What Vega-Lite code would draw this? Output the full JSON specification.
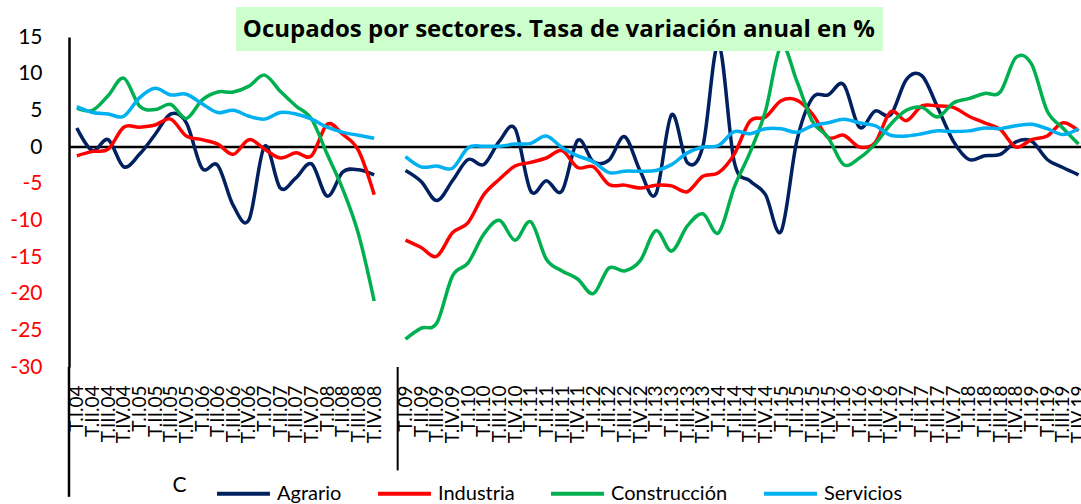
{
 "$schema": "https://vega.github.io/schema/vega-lite/v6.json",
 "width": 1012,
 "height": 330,
 "autosize": {"type": "none"},
 "padding": {"left": 69, "top": 37, "right": 0, "bottom": 137},
 "background": "white",
 "config": {"view": {"stroke": null}, "font": "Lato"},
 "resolve": {"axis": {"x": "independent", "y": "independent"}},
 "data": {"values": [{}]},
 "datasets": {
  "t": [
   {"i":0,"q":"T.I.04","g":1,"Agrario":2.6,"Industria":-1.2,"Construcción":5.3,"Servicios":5.5},
   {"i":1,"q":"T.II.04","g":1,"Agrario":-0.5,"Industria":-0.6,"Construcción":5.0,"Servicios":4.7},
   {"i":2,"q":"T.III.04","g":1,"Agrario":1.0,"Industria":-0.3,"Construcción":7.0,"Servicios":4.5},
   {"i":3,"q":"T.IV.04","g":1,"Agrario":-2.7,"Industria":2.7,"Construcción":9.4,"Servicios":4.2},
   {"i":4,"q":"T.I.05","g":1,"Agrario":-1.0,"Industria":2.7,"Construcción":5.6,"Servicios":6.7},
   {"i":5,"q":"T.II.05","g":1,"Agrario":1.7,"Industria":3.0,"Construcción":5.1,"Servicios":8.0},
   {"i":6,"q":"T.III.05","g":1,"Agrario":4.5,"Industria":3.8,"Construcción":5.8,"Servicios":7.1},
   {"i":7,"q":"T.IV.05","g":1,"Agrario":3.3,"Industria":1.5,"Construcción":3.9,"Servicios":7.2},
   {"i":8,"q":"T.I.06","g":1,"Agrario":-2.9,"Industria":1.0,"Construcción":6.4,"Servicios":5.9},
   {"i":9,"q":"T.II.06","g":1,"Agrario":-2.5,"Industria":0.4,"Construcción":7.5,"Servicios":4.7},
   {"i":10,"q":"T.III.06","g":1,"Agrario":-8.0,"Industria":-1.0,"Construcción":7.5,"Servicios":5.0},
   {"i":11,"q":"T.IV.06","g":1,"Agrario":-9.9,"Industria":1.0,"Construcción":8.3,"Servicios":4.2},
   {"i":12,"q":"T.I.07","g":1,"Agrario":0.1,"Industria":-0.3,"Construcción":9.8,"Servicios":3.8},
   {"i":13,"q":"T.II.07","g":1,"Agrario":-5.6,"Industria":-1.5,"Construcción":7.6,"Servicios":4.7},
   {"i":14,"q":"T.III.07","g":1,"Agrario":-4.2,"Industria":-0.8,"Construcción":5.6,"Servicios":4.5},
   {"i":15,"q":"T.IV.07","g":1,"Agrario":-2.3,"Industria":-1.2,"Construcción":3.8,"Servicios":3.8},
   {"i":16,"q":"T.I.08","g":1,"Agrario":-6.7,"Industria":3.1,"Construcción":-1.0,"Servicios":2.7},
   {"i":17,"q":"T.II.08","g":1,"Agrario":-3.4,"Industria":1.7,"Construcción":-5.8,"Servicios":2.0},
   {"i":18,"q":"T.III.08","g":1,"Agrario":-3.1,"Industria":-0.5,"Construcción":-11.9,"Servicios":1.6},
   {"i":19,"q":"T.IV.08","g":1,"Agrario":-3.8,"Industria":-6.5,"Construcción":-21.0,"Servicios":1.2},
   {"i":21,"q":"T.I.09","g":2,"Agrario":-3.2,"Industria":-12.7,"Construcción":-26.2,"Servicios":-1.3},
   {"i":22,"q":"T.II.09","g":2,"Agrario":-4.7,"Industria":-13.7,"Construcción":-24.7,"Servicios":-2.7},
   {"i":23,"q":"T.III.09","g":2,"Agrario":-7.3,"Industria":-14.9,"Construcción":-24.0,"Servicios":-2.6},
   {"i":24,"q":"T.IV.09","g":2,"Agrario":-4.6,"Industria":-11.7,"Construcción":-17.6,"Servicios":-2.9},
   {"i":25,"q":"T.I.10","g":2,"Agrario":-1.7,"Industria":-10.3,"Construcción":-15.8,"Servicios":-0.1},
   {"i":26,"q":"T.II.10","g":2,"Agrario":-2.4,"Industria":-6.5,"Construcción":-11.9,"Servicios":0.1},
   {"i":27,"q":"T.III.10","g":2,"Agrario":0.8,"Industria":-4.4,"Construcción":-10.0,"Servicios":0.1},
   {"i":28,"q":"T.IV.10","g":2,"Agrario":2.5,"Industria":-2.6,"Construcción":-12.7,"Servicios":0.4},
   {"i":29,"q":"T.I.11","g":2,"Agrario":-6.0,"Industria":-2.1,"Construcción":-10.2,"Servicios":0.5},
   {"i":30,"q":"T.II.11","g":2,"Agrario":-4.6,"Industria":-1.5,"Construcción":-15.3,"Servicios":1.5},
   {"i":31,"q":"T.III.11","g":2,"Agrario":-6.0,"Industria":-0.5,"Construcción":-16.9,"Servicios":-0.1},
   {"i":32,"q":"T.IV.11","g":2,"Agrario":0.9,"Industria":-2.8,"Construcción":-18.0,"Servicios":-1.2},
   {"i":33,"q":"T.I.12","g":2,"Agrario":-2.0,"Industria":-2.7,"Construcción":-20.0,"Servicios":-2.0},
   {"i":34,"q":"T.II.12","g":2,"Agrario":-1.8,"Industria":-5.1,"Construcción":-16.5,"Servicios":-3.5},
   {"i":35,"q":"T.III.12","g":2,"Agrario":1.4,"Industria":-5.2,"Construcción":-16.9,"Servicios":-3.3},
   {"i":36,"q":"T.IV.12","g":2,"Agrario":-3.3,"Industria":-5.6,"Construcción":-15.5,"Servicios":-3.3},
   {"i":37,"q":"T.I.13","g":2,"Agrario":-6.4,"Industria":-5.2,"Construcción":-11.4,"Servicios":-3.2},
   {"i":38,"q":"T.II.13","g":2,"Agrario":4.4,"Industria":-5.3,"Construcción":-14.2,"Servicios":-2.4},
   {"i":39,"q":"T.III.13","g":2,"Agrario":-2.1,"Industria":-6.1,"Construcción":-10.8,"Servicios":-0.8},
   {"i":40,"q":"T.IV.13","g":2,"Agrario":0.1,"Industria":-4.0,"Construcción":-9.1,"Servicios":0.0},
   {"i":41,"q":"T.I.14","g":2,"Agrario":14.0,"Industria":-3.5,"Construcción":-11.7,"Servicios":0.2},
   {"i":42,"q":"T.II.14","g":2,"Agrario":-2.0,"Industria":-1.0,"Construcción":-5.5,"Servicios":2.1},
   {"i":43,"q":"T.III.14","g":2,"Agrario":-4.6,"Industria":3.5,"Construcción":-0.8,"Servicios":1.8},
   {"i":44,"q":"T.IV.14","g":2,"Agrario":-6.5,"Industria":4.1,"Construcción":4.9,"Servicios":2.5},
   {"i":45,"q":"T.I.15","g":2,"Agrario":-11.5,"Industria":6.3,"Construcción":13.8,"Servicios":2.5},
   {"i":46,"q":"T.II.15","g":2,"Agrario":0.8,"Industria":6.4,"Construcción":9.0,"Servicios":2.0},
   {"i":47,"q":"T.III.15","g":2,"Agrario":6.7,"Industria":4.5,"Construcción":3.5,"Servicios":2.9},
   {"i":48,"q":"T.IV.15","g":2,"Agrario":7.1,"Industria":1.3,"Construcción":1.3,"Servicios":3.3},
   {"i":49,"q":"T.I.16","g":2,"Agrario":8.5,"Industria":1.6,"Construcción":-2.4,"Servicios":3.8},
   {"i":50,"q":"T.II.16","g":2,"Agrario":2.7,"Industria":0.0,"Construcción":-1.5,"Servicios":3.3},
   {"i":51,"q":"T.III.16","g":2,"Agrario":4.9,"Industria":0.6,"Construcción":0.4,"Servicios":2.9},
   {"i":52,"q":"T.IV.16","g":2,"Agrario":4.4,"Industria":4.8,"Construcción":3.1,"Servicios":1.6},
   {"i":53,"q":"T.I.17","g":2,"Agrario":9.2,"Industria":3.6,"Construcción":5.0,"Servicios":1.5},
   {"i":54,"q":"T.II.17","g":2,"Agrario":9.7,"Industria":5.6,"Construcción":5.4,"Servicios":1.8},
   {"i":55,"q":"T.III.17","g":2,"Agrario":5.4,"Industria":5.6,"Construcción":4.1,"Servicios":2.2},
   {"i":56,"q":"T.IV.17","g":2,"Agrario":0.8,"Industria":5.4,"Construcción":6.0,"Servicios":2.1},
   {"i":57,"q":"T.I.18","g":2,"Agrario":-1.7,"Industria":4.2,"Construcción":6.6,"Servicios":2.2},
   {"i":58,"q":"T.II.18","g":2,"Agrario":-1.2,"Industria":3.3,"Construcción":7.3,"Servicios":2.6},
   {"i":59,"q":"T.III.18","g":2,"Agrario":-1.0,"Industria":2.4,"Construcción":7.5,"Servicios":2.5},
   {"i":60,"q":"T.IV.18","g":2,"Agrario":0.7,"Industria":0.0,"Construcción":12.2,"Servicios":2.9},
   {"i":61,"q":"T.I.19","g":2,"Agrario":0.8,"Industria":1.0,"Construcción":11.3,"Servicios":3.1},
   {"i":62,"q":"T.II.19","g":2,"Agrario":-1.7,"Industria":1.5,"Construcción":4.9,"Servicios":2.5},
   {"i":63,"q":"T.III.19","g":2,"Agrario":-2.8,"Industria":3.3,"Construcción":2.6,"Servicios":1.7},
   {"i":64,"q":"T.IV.19","g":2,"Agrario":-3.8,"Industria":2.2,"Construcción":0.4,"Servicios":2.5}
  ]
 },
 "layer": [
  {
   "mark": {"type": "rule", "color": "black", "strokeWidth": 2.5},
   "encoding": {
    "y": {"datum": 0, "type": "quantitative", "scale": {"domain": [-30, 15], "nice": false, "zero": false}, "axis": null}
   }
  },
  {
   "data": {"name": "t"},
   "transform": [{"fold": ["Agrario", "Industria", "Construcción", "Servicios"], "as": ["s", "v"]}],
   "mark": {"type": "line", "interpolate": "cardinal", "strokeWidth": 3.5},
   "encoding": {
    "x": {"field": "i", "type": "quantitative", "scale": {"domain": [-0.5, 64.16], "nice": false, "zero": false},
     "axis": {"values": [0,1,2,3,4,5,6,7,8,9,10,11,12,13,14,15,16,17,18,19,21,22,23,24,25,26,27,28,29,30,31,32,33,34,35,36,37,38,39,40,41,42,43,44,45,46,47,48,49,50,51,52,53,54,55,56,57,58,59,60,61,62,63,64],
      "labelExpr": "datum.value < 20 ? 'T.' + ['I','II','III','IV'][datum.value % 4] + '.0' + (4 + floor(datum.value / 4)) : 'T.' + ['I','II','III','IV'][(datum.value - 21) % 4] + '.' + ((9 + floor((datum.value - 21) / 4)) < 10 ? '0' : '') + (9 + floor((datum.value - 21) / 4))",
      "labelAngle": 270, "labelFontSize": 19, "labelFont": "Lato", "labelColor": "black", "labelPadding": 18,
      "labelOverlap": false, "labelFlush": false, "labelBound": false, "ticks": false, "domain": false, "grid": false,
      "title": "C", "titleX": 110, "titleY": 118, "titleAlign": "center", "titleBaseline": "middle", "titleAngle": 0,
      "titleFontSize": 21, "titleFontWeight": "normal", "titleFont": "Lato", "titleColor": "black"}},
    "y": {"field": "v", "type": "quantitative", "scale": {"domain": [-30, 15], "nice": false, "zero": false},
     "axis": {"values": [-30,-25,-20,-15,-10,-5,0,5,10,15], "title": null, "labelOverlap": false, "ticks": false, "grid": false,
      "domainColor": "black", "domainWidth": 2.5,
      "labelExpr": "'' + datum.value", "labelFontSize": 21, "labelFont": "Lato", "labelPadding": 27,
      "labelColor": {"condition": {"test": "datum.value < 0", "value": "#FF0000"}, "value": "black"}}},
    "color": {"field": "s", "type": "nominal",
     "scale": {"domain": ["Agrario", "Industria", "Construcción", "Servicios"], "range": ["#002060", "#FF0000", "#00B050", "#00B0F0"]},
     "legend": {"orient": "none", "legendX": 146, "legendY": 428, "direction": "horizontal", "title": null,
      "symbolType": "stroke", "symbolStrokeWidth": 4, "symbolSize": 2800, "labelFontSize": 20, "labelFont": "Lato",
      "labelColor": "black", "columnPadding": 28, "labelOffset": 5, "padding": 0}},
    "detail": {"field": "g", "type": "nominal"}
   }
  },
  {
   "mark": {"type": "rect", "color": "#CCFFCC", "clip": false},
   "encoding": {
    "x": {"datum": 10.17, "type": "quantitative", "axis": null},
    "x2": {"datum": 51.5},
    "y": {"datum": 19.1, "type": "quantitative", "axis": null},
    "y2": {"datum": 13.1}
   }
  },
  {
   "mark": {"type": "text", "text": "Ocupados por sectores. Tasa de variación anual en %", "font": "Open Sans", "fontSize": 24, "fontWeight": "bold", "color": "black", "align": "center", "baseline": "alphabetic", "clip": false},
   "encoding": {
    "x": {"datum": 30.8, "type": "quantitative", "axis": null},
    "y": {"datum": 14.95, "type": "quantitative", "axis": null}
   }
  },
  {
   "mark": {"type": "rule", "color": "black", "strokeWidth": 2.5, "clip": false},
   "encoding": {
    "x": {"datum": -0.5, "type": "quantitative", "axis": null},
    "y": {"datum": -30, "type": "quantitative", "axis": null},
    "y2": {"datum": -47.7}
   }
  },
  {
   "mark": {"type": "rule", "color": "black", "strokeWidth": 2, "clip": false},
   "encoding": {
    "x": {"datum": 20.5, "type": "quantitative", "axis": null},
    "y": {"datum": -30, "type": "quantitative", "axis": null},
    "y2": {"datum": -44.1}
   }
  }
 ]
}
